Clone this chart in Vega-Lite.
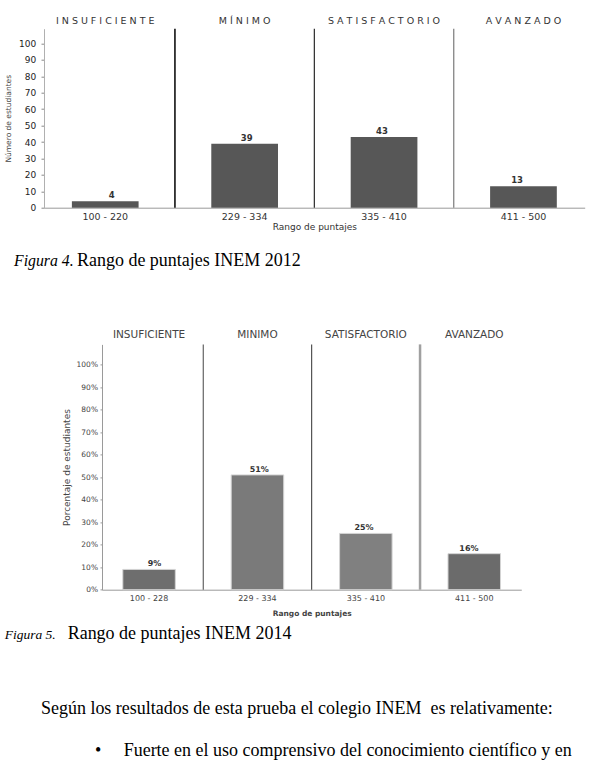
{
  "$schema": "https://vega.github.io/schema/vega-lite/v6.json",
  "background": "white",
  "autosize": {"type": "pad"},
  "padding": {"left": 4, "top": 14.7, "right": 4, "bottom": 10},
  "config": {
    "view": {"stroke": null},
    "font": "DejaVu Sans",
    "axis": {"grid": false, "labelFont": "DejaVu Sans", "titleFont": "DejaVu Sans"}
  },
  "title": {
    "text": "Según los resultados de esta prueba el colegio INEM\u00a0 es relativamente:",
    "subtitle": "\u200b\u00a0\u00a0\u00a0\u00a0\u00a0\u00a0\u00a0\u00a0\u00a0\u00a0\u00a0\u00a0•\u00a0\u00a0\u00a0\u00a0\u00a0Fuerte en el uso comprensivo del conocimiento científico y en",
    "orient": "bottom",
    "anchor": "start",
    "frame": "bounds",
    "dx": 36.7,
    "offset": 57,
    "font": "Liberation Serif",
    "fontSize": 18,
    "fontWeight": "normal",
    "color": "#000000",
    "subtitleFont": "Liberation Serif",
    "subtitleFontSize": 18,
    "subtitleColor": "#000000",
    "subtitlePadding": 24.4
  },
  "spacing": 58.7,
  "vconcat": [
    {
      "width": 540.7,
      "height": 179,
      "data": {
        "values": [
          {"nivel": "INSUFICIENTE", "rango": "100 - 220", "estudiantes": 4},
          {"nivel": "MÍNIMO", "rango": "229 - 334", "estudiantes": 39},
          {"nivel": "SATISFACTORIO", "rango": "335 - 410", "estudiantes": 43},
          {"nivel": "AVANZADO", "rango": "411 - 500", "estudiantes": 13}
        ]
      },
      "title": {
        "text": "Figura 4.",
        "subtitle": "\u200b\u00a0\u00a0\u00a0\u00a0\u00a0\u00a0\u00a0\u00a0\u00a0\u00a0\u00a0\u00a0\u00a0\u00a0Rango de puntajes INEM 2012",
        "orient": "bottom",
        "anchor": "start",
        "frame": "group",
        "dx": -30,
        "offset": 21.9,
        "font": "Liberation Serif",
        "fontStyle": "italic",
        "fontWeight": "normal",
        "fontSize": 15.8,
        "color": "#000000",
        "subtitleFont": "Liberation Serif",
        "subtitleFontStyle": "normal",
        "subtitleFontSize": 18,
        "subtitleColor": "#000000",
        "subtitlePadding": -17.8
      },
      "layer": [
        {
          "mark": {"type": "bar", "color": "#575757"},
          "encoding": {
            "x": {
              "field": "rango", "type": "nominal", "sort": null,
              "scale": {"paddingInner": 0.5215, "paddingOuter": 0.2},
              "axis": {
                "orient": "bottom", "labelAngle": 0, "ticks": false, "tickSize": 0,
                "labelPadding": 4, "labelFontSize": 9.5, "labelColor": "#333333",
                "domainColor": "#9a9a9a",
                "title": "Rango de puntajes", "titleFontSize": 9, "titleFontWeight": "normal",
                "titleColor": "#333333", "titlePadding": 1.5
              }
            },
            "y": {
              "field": "estudiantes", "type": "quantitative",
              "scale": {"domain": [0, 109], "nice": false},
              "axis": {
                "values": [0, 10, 20, 30, 40, 50, 60, 70, 80, 90, 100],
                "labelOverlap": false,
                "tickSize": 3, "tickColor": "#8a8a8a", "labelPadding": 5.3,
                "labelFontSize": 9, "labelColor": "#222222", "domainColor": "#b0b0b0",
                "title": "Número de estudiantes", "titleFontSize": 7.5, "titleFontWeight": "normal",
                "titleColor": "#444444", "titlePadding": 6.3
              }
            }
          }
        },
        {
          "mark": {"type": "text", "dy": -3, "baseline": "alphabetic", "fontSize": 8.5, "fontWeight": "bold", "color": "#333333"},
          "encoding": {
            "x": {"field": "rango", "type": "nominal", "sort": null, "scale": {"paddingInner": 0.5215, "paddingOuter": 0.2}, "axis": null},
            "y": {
              "field": "estudiantes", "type": "quantitative",
              "axis": {
                "values": [0, 10, 20, 30, 40, 50, 60, 70, 80, 90, 100],
                "labelOverlap": false,
                "tickSize": 3, "tickColor": "#8a8a8a", "labelPadding": 5.3,
                "labelFontSize": 9, "labelColor": "#222222", "domainColor": "#b0b0b0",
                "title": "Número de estudiantes", "titleFontSize": 7.5, "titleFontWeight": "normal",
                "titleColor": "#444444", "titlePadding": 6.3
              }
            },
            "text": {"field": "estudiantes", "type": "quantitative"}
          }
        },
        {
          "transform": [{"filter": "datum.nivel !== 'INSUFICIENTE'"}],
          "mark": {"type": "rule"},
          "encoding": {
            "x": {
              "field": "nivel", "type": "nominal", "bandPosition": -0.545,
              "scale": {"domain": ["INSUFICIENTE", "MÍNIMO", "SATISFACTORIO", "AVANZADO"], "paddingInner": 0.5215, "paddingOuter": 0.2},
              "axis": {
                "orient": "top", "title": null, "domain": false, "ticks": false, "tickSize": 0,
                "labelAngle": 0, "labelBaseline": "alphabetic", "labelPadding": 5.6,
                "labelFontSize": 9.5, "labelColor": "#333333",
                "labelExpr": "join(split(datum.label, ''), ' ')"
              }
            },
            "color": {
              "condition": [
                {"test": "datum.nivel === 'MÍNIMO'", "value": "#111111"},
                {"test": "datum.nivel === 'SATISFACTORIO'", "value": "#2a2a2a"}
              ],
              "value": "#7a7a7a"
            },
            "strokeWidth": {
              "condition": {"test": "datum.nivel === 'MÍNIMO'", "value": 1.6},
              "value": 1.2
            }
          }
        }
      ],
      "resolve": {"scale": {"x": "independent"}, "axis": {"x": "independent"}}
    },
    {
      "title": {
        "text": "Figura 5.",
        "subtitle": "\u200b\u00a0\u00a0\u00a0\u00a0\u00a0\u00a0\u00a0\u00a0\u00a0\u00a0\u00a0\u00a0\u00a0\u00a0Rango de puntajes INEM 2014",
        "orient": "bottom",
        "anchor": "start",
        "frame": "group",
        "dx": -39.3,
        "offset": 10.5,
        "font": "Liberation Serif",
        "fontStyle": "italic",
        "fontWeight": "normal",
        "fontSize": 13.5,
        "color": "#000000",
        "subtitleFont": "Liberation Serif",
        "subtitleFontStyle": "normal",
        "subtitleFontSize": 18,
        "subtitleColor": "#000000",
        "subtitlePadding": -16.5
      },
      "spacing": 0,
      "hconcat": [
        {
          "width": 17.2,
          "height": 10,
          "data": {"values": []},
          "mark": "point",
          "encoding": {}
        },
        {
          "width": 419.3,
          "height": 245.3,
          "data": {
            "values": [
              {"nivel": "INSUFICIENTE", "rango": "100 - 228", "porcentaje": 0.09},
              {"nivel": "MINIMO", "rango": "229 - 334", "porcentaje": 0.51},
              {"nivel": "SATISFACTORIO", "rango": "335 - 410", "porcentaje": 0.25},
              {"nivel": "AVANZADO", "rango": "411 - 500", "porcentaje": 0.16}
            ]
          },
          "layer": [
            {
              "mark": {"type": "bar", "stroke": "#d4d4d4", "strokeWidth": 1},
              "encoding": {
                "x": {
                  "field": "rango", "type": "nominal", "sort": null,
                  "scale": {"paddingInner": 0.5157, "paddingOuter": 0.192},
                  "axis": {
                    "orient": "bottom", "labelAngle": 0, "ticks": false, "tickSize": 0,
                    "labelPadding": 5, "labelFontSize": 8, "labelColor": "#444444",
                    "domainColor": "#9a9a9a",
                    "title": "Rango de puntajes", "titleFontSize": 7.5, "titleFontWeight": "bold",
                    "titleColor": "#444444", "titlePadding": 7
                  }
                },
                "y": {
                  "field": "porcentaje", "type": "quantitative",
                  "scale": {"domain": [0, 1.09], "nice": false},
                  "axis": {
                    "values": [0, 0.1, 0.2, 0.3, 0.4, 0.5, 0.6, 0.7, 0.8, 0.9, 1],
                    "labelOverlap": false,
                    "format": ".0%",
                    "tickSize": 2, "tickColor": "#9a9a9a", "labelPadding": 2.5,
                    "labelFontSize": 7.5, "labelColor": "#444444", "domainColor": "#9a9a9a",
                    "title": "Porcentaje de estudiantes", "titleFontSize": 9, "titleFontWeight": "normal",
                    "titleColor": "#444444", "titlePadding": 4.3
                  }
                },
                "color": {
                  "field": "rango", "type": "nominal",
                  "scale": {"domain": ["100 - 228", "229 - 334", "335 - 410", "411 - 500"], "range": ["#6e6e6e", "#7a7a7a", "#808080", "#6b6b6b"]},
                  "legend": null
                }
              }
            },
            {
              "mark": {"type": "text", "dy": -3, "baseline": "alphabetic", "fontSize": 8, "fontWeight": "bold", "color": "#333333"},
              "encoding": {
                "x": {"field": "rango", "type": "nominal", "sort": null, "scale": {"paddingInner": 0.5157, "paddingOuter": 0.192}, "axis": null},
                "y": {
                  "field": "porcentaje", "type": "quantitative",
                  "axis": {
                    "values": [0, 0.1, 0.2, 0.3, 0.4, 0.5, 0.6, 0.7, 0.8, 0.9, 1],
                    "labelOverlap": false,
                    "format": ".0%",
                    "tickSize": 2, "tickColor": "#9a9a9a", "labelPadding": 2.5,
                    "labelFontSize": 7.5, "labelColor": "#444444", "domainColor": "#9a9a9a",
                    "title": "Porcentaje de estudiantes", "titleFontSize": 9, "titleFontWeight": "normal",
                    "titleColor": "#444444", "titlePadding": 4.3
                  }
                },
                "text": {"field": "porcentaje", "type": "quantitative", "format": ".0%"}
              }
            },
            {
              "transform": [{"filter": "datum.nivel !== 'INSUFICIENTE'"}],
              "mark": {"type": "rule"},
              "encoding": {
                "x": {
                  "field": "nivel", "type": "nominal", "bandPosition": -0.5324,
                  "scale": {"domain": ["INSUFICIENTE", "MINIMO", "SATISFACTORIO", "AVANZADO"], "paddingInner": 0.5157, "paddingOuter": 0.192},
                  "axis": {
                    "orient": "top", "title": null, "domain": false, "ticks": false, "tickSize": 0,
                    "labelAngle": 0, "labelBaseline": "alphabetic", "labelPadding": 7.3,
                    "labelFontSize": 10.5, "labelColor": "#444444"
                  }
                },
                "color": {
                  "condition": [
                    {"test": "datum.nivel === 'MINIMO'", "value": "#555555"},
                    {"test": "datum.nivel === 'SATISFACTORIO'", "value": "#444444"}
                  ],
                  "value": "#a0a0a0"
                },
                "strokeWidth": {
                  "condition": {"test": "datum.nivel === 'AVANZADO'", "value": 2.5},
                  "value": 1.1
                }
              }
            }
          ],
          "resolve": {"scale": {"x": "independent"}, "axis": {"x": "independent"}}
        }
      ]
    }
  ]
}
